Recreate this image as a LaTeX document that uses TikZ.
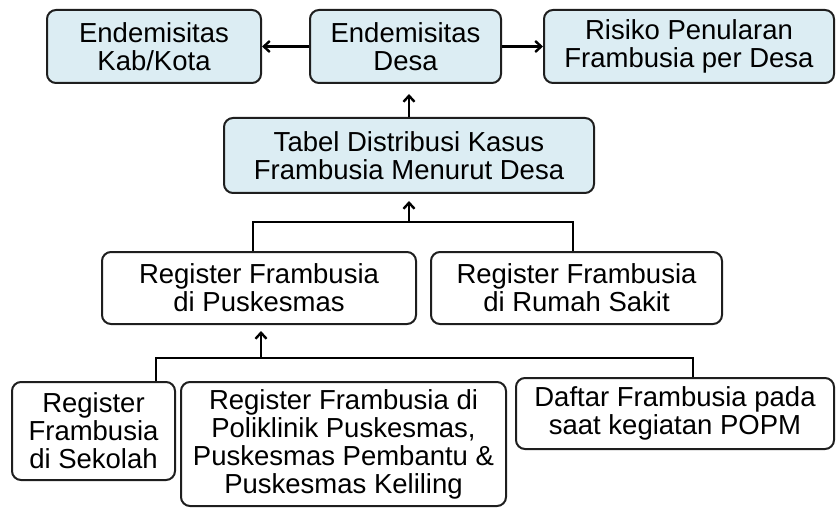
\documentclass[tikz,border=0pt]{standalone}
\usepackage{fontspec}
\setmainfont{Liberation Sans}
\usetikzlibrary{arrows.meta}
\definecolor{boxblue}{HTML}{DCEDF3}
\definecolor{boxline}{HTML}{1E1E1E}
\begin{document}
\begin{tikzpicture}[x=1pt, y=-1pt,
	blue box/.style={draw=boxline, line width=2pt, rounded corners=9pt, fill=boxblue,
		align=center, inner sep=0pt, font=\fontsize{27.5}{28}\selectfont},
	white box/.style={blue box, fill=white},
	flow/.style={draw=black, line width=2.4pt, -{Straight Barb[length=6pt,width=11pt]}},
	bus/.style={draw=black, line width=1.5pt}]
		\useasboundingbox (0,0) rectangle (836,508);
		% top row
		\node[blue box, minimum width=214pt, minimum height=73pt] (kab) at (154,46.5) {Endemisitas\\Kab/Kota};
		\node[blue box, minimum width=191pt, minimum height=73pt] (desa) at (405.5,46.5) {Endemisitas\\Desa};
		\node[blue box, minimum width=290pt, minimum height=73pt] (risiko) at (689,46.5) {Risiko Penularan\\Frambusia per Desa};
		\node[blue box, minimum width=370pt, minimum height=75pt] (tabel) at (409,155.5) {Tabel Distribusi Kasus\\Frambusia Menurut Desa};
		% registers
		\node[white box, minimum width=314pt, minimum height=72pt] (pusk) at (259,288) {Register Frambusia\\di Puskesmas};
		\node[white box, minimum width=291pt, minimum height=72pt] (rs) at (576.5,288) {Register Frambusia\\di Rumah Sakit};
		\node[white box, minimum width=163pt, minimum height=98pt] (sekolah) at (93.5,431) {Register\\Frambusia\\di Sekolah};
		\node[white box, minimum width=325pt, minimum height=124pt] (poli) at (343.5,444) {Register Frambusia di\\Poliklinik Puskesmas,\\Puskesmas Pembantu \&\\Puskesmas Keliling};
		\node[white box, minimum width=318pt, minimum height=71pt] (popm) at (675,413.5) {Daftar Frambusia pada\\saat kegiatan POPM};
		\coordinate (bus1) at (409,222);
		\coordinate (bus2) at (261,358);
		% connectors
		\draw[flow] (desa.west) -- (kab.east);
		\draw[flow] (desa.east) -- (risiko.west);
		\draw[flow, shorten >=10pt] (tabel.north) -- (tabel.north |- desa.south);
		\draw[bus] ([xshift=-6pt]pusk.north) |- (bus1) -| ([xshift=-3.5pt]rs.north);
		\draw[flow, shorten >=7pt] (bus1) -- (tabel.south);
		\draw[bus] ([xshift=-20pt]sekolah.north east) |- (bus2) -| ([xshift=18pt]popm.north);
		\draw[flow, shorten >=6pt] (bus2) -- (bus2 |- pusk.south);
	\end{tikzpicture}
\end{document}
